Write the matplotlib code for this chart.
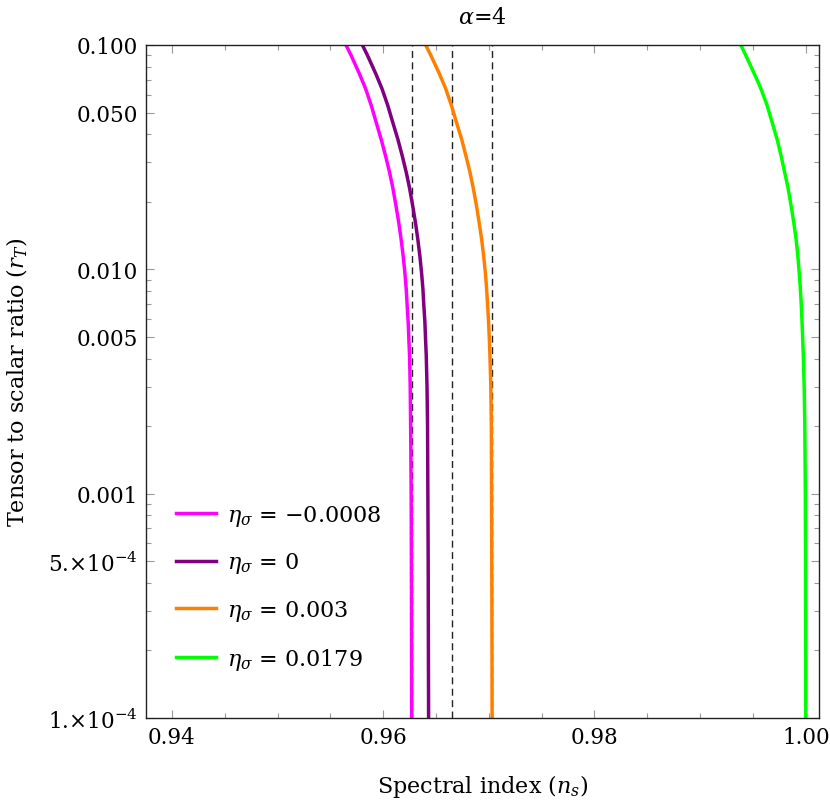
"""Tensor-to-scalar ratio vs spectral index for alpha = 4 (log r axis)."""

import matplotlib
matplotlib.use("Agg")
import matplotlib.pyplot as plt
from matplotlib.ticker import FixedLocator, FixedFormatter, LogLocator, NullFormatter, MultipleLocator

plt.rcParams["font.family"] = ["DejaVu Serif"]
plt.rcParams["mathtext.fontset"] = "dejavuserif"

# r_T samples (shared by all curves)
r_vals = [0.1, 0.09, 0.075, 0.064, 0.054, 0.045, 0.038, 0.032, 0.027, 0.023,
          0.019, 0.016, 0.0136, 0.0115, 0.0097, 0.0082, 0.0069, 0.0058, 0.0049,
          0.0041, 0.003, 0.002, 0.001, 0.0005, 0.0002, 0.0001]

ns_m0008 = [0.95648, 0.95696, 0.95772, 0.95833, 0.95886, 0.95935, 0.95981, 0.96023,
            0.96061, 0.96092, 0.96123, 0.96149, 0.96170, 0.96189, 0.96205, 0.96218,
            0.96227, 0.96237, 0.96243, 0.96250, 0.96256, 0.96260, 0.96265, 0.96267,
            0.96269, 0.96270]
ns_0 = [0.95803, 0.95851, 0.95927, 0.95988, 0.96042, 0.96092, 0.96139, 0.96181,
        0.96219, 0.96250, 0.96281, 0.96307, 0.96328, 0.96347, 0.96363, 0.96376,
        0.96385, 0.96395, 0.96401, 0.96408, 0.96415, 0.96420, 0.96423, 0.96426,
        0.96428, 0.96430]
ns_003 = [0.96402, 0.96451, 0.96529, 0.96591, 0.96645, 0.96695, 0.96743, 0.96784,
          0.96822, 0.96853, 0.96885, 0.96910, 0.96932, 0.96951, 0.96967, 0.96979,
          0.96989, 0.96998, 0.97005, 0.97011, 0.97019, 0.97024, 0.97026, 0.97028,
          0.97030, 0.97031]
ns_0179 = [0.99385, 0.99432, 0.99510, 0.99575, 0.99633, 0.99683, 0.99729, 0.99767,
           0.99801, 0.99833, 0.99863, 0.99888, 0.99909, 0.99925, 0.99938, 0.99949,
           0.99958, 0.99965, 0.99971, 0.99977, 0.99985, 0.99991, 0.99996, 0.99998,
           1.00000, 1.00000]

curves = [
    (ns_m0008, "#ff00ff", r"$\eta_\sigma$ = −0.0008"),
    (ns_0, "#800080", r"$\eta_\sigma$ = 0"),
    (ns_003, "#ff8000", r"$\eta_\sigma$ = 0.003"),
    (ns_0179, "#00ff00", r"$\eta_\sigma$ = 0.0179"),
]

# Observational n_s band (dashed)
ns_bounds = [0.9627, 0.9665, 0.9703]

y_ticks = [0.1, 0.05, 0.01, 0.005, 0.001, 5e-4, 1e-4]
y_tick_labels = ["0.100", "0.050", "0.010", "0.005", "0.001",
                 "5.×10$^{-4}$", "1.×10$^{-4}$"]

fig = plt.figure(figsize=(8.3, 8.04), dpi=100)
ax = fig.add_axes([0.1759, 0.1057, 0.8108, 0.8371])

for x in ns_bounds:
    ax.axvline(x, color="#222222", linestyle=(0, (5, 3.2)), linewidth=1.0)

for ns, color, label in curves:
    ax.plot(ns, r_vals, color=color, linewidth=2.5, label=label)

ax.set_yscale("log")
ax.set_xlim(0.93755, 1.00125)
ax.set_ylim(1e-4, 0.1)

ax.xaxis.set_major_locator(MultipleLocator(0.02))
ax.xaxis.set_minor_locator(MultipleLocator(0.005))
ax.xaxis.set_major_formatter(plt.FuncFormatter(lambda v, p: f"{v:.2f}"))

ax.yaxis.set_major_locator(FixedLocator(y_ticks))
ax.yaxis.set_major_formatter(FixedFormatter(y_tick_labels))
ax.yaxis.set_minor_locator(LogLocator(base=10, subs=range(2, 10)))
ax.yaxis.set_minor_formatter(NullFormatter())

ax.tick_params(which="both", direction="in", top=True, right=True,
               color="#999999", labelsize=15.5, labelcolor="black")
ax.tick_params(which="major", length=5.5, width=0.8, pad=6)
ax.tick_params(which="minor", length=3.5, width=0.8)
for spine in ax.spines.values():
    spine.set_color("#222222")
    spine.set_linewidth(1.0)

ax.set_title(r"$\alpha$=4", fontsize=16, pad=16)
ax.set_xlabel(r"Spectral index $(n_s)$", fontsize=16, labelpad=17)
ax.set_ylabel(r"Tensor to scalar ratio $(r_T)$", fontsize=16, labelpad=13)

ax.legend(loc="lower left", bbox_to_anchor=(0.015, 0.039), frameon=False,
          fontsize=16, handlelength=1.8, handletextpad=0.5, labelspacing=1.02)

fig.savefig("out.png", dpi=100)
